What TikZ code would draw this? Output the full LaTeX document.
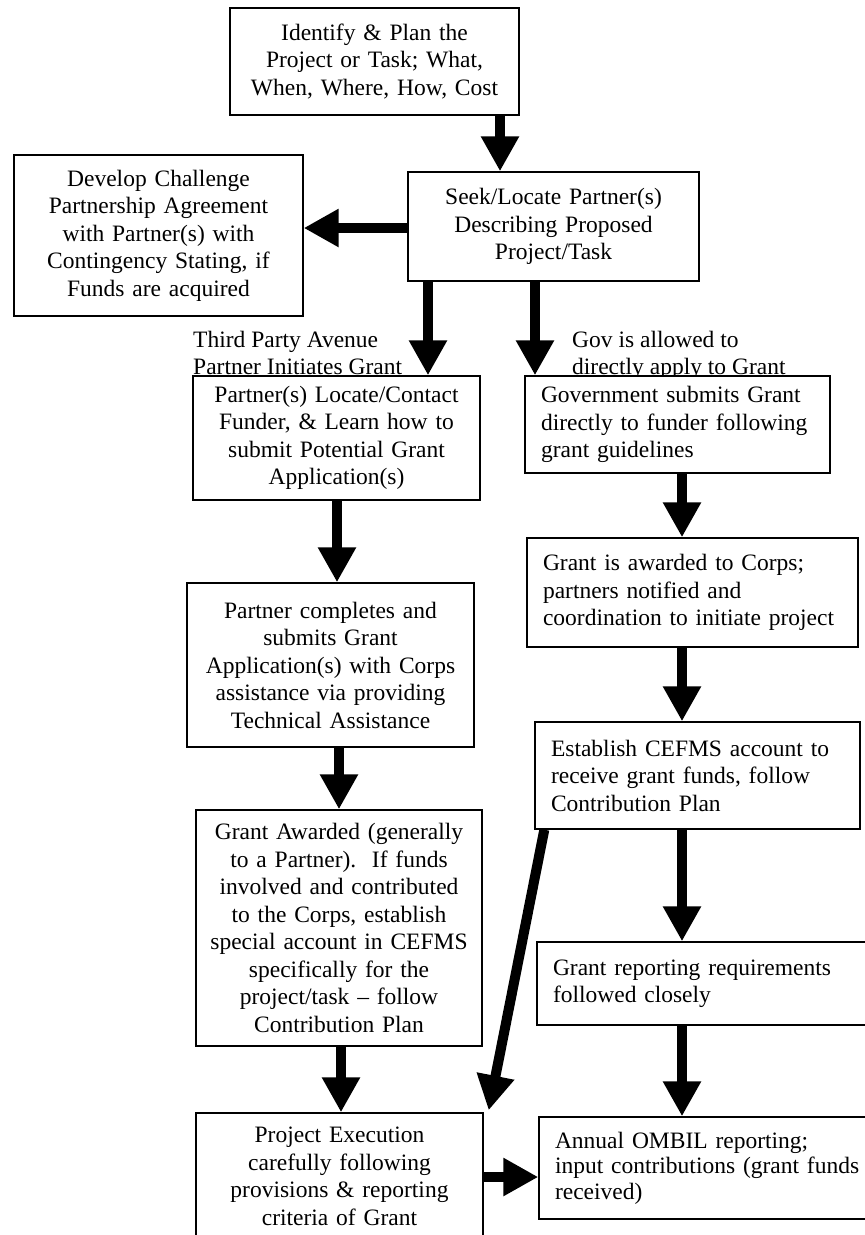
\documentclass[tikz,border=0pt]{standalone}
\usepackage{fontspec}
\setmainfont{Liberation Serif}
\usetikzlibrary{arrows.meta}
\begin{document}
\begin{tikzpicture}[x=1pt,y=-1pt]
\tikzset{
  box/.style={draw=black, line width=1.4pt, fill=white, inner ysep=0pt,
    font=\fontsize{23.5}{27.5}\selectfont},
  cbox/.style={box, inner xsep=6pt, align=center},
  lbox/.style={box, inner xsep=16pt, align=left},
  lbl/.style={inner sep=0pt, anchor=north west, align=left, font=\fontsize{23.5}{26.5}\selectfont},
  arr/.style={line width=10pt, -{Triangle[width=36pt,length=35pt]}}
}
\useasboundingbox[fill=white] (0,0) rectangle (865,1235);

% labels (drawn first so box tops cover their descenders)
\node[lbl] (l1) at (193,331) {Third Party Avenue\\Partner Initiates Grant};
\node[lbl] (l2) at (572,331) {Gov is allowed to\\directly apply to Grant};

% boxes
\node[cbox, text width=277pt, minimum height=107pt] (b1) at (374.5,61.5)
  {Identify \& Plan the\\Project or Task; What,\\When, Where, How, Cost};
\node[cbox, text width=279pt, minimum height=109pt] (b2) at (553.5,226.5)
  {Seek/Locate Partner(s)\\Describing Proposed\\Project/Task};
\node[cbox, text width=277pt, minimum height=161pt] (b3) at (158.5,235.5)
  {Develop Challenge\\Partnership Agreement\\with Partner(s) with\\Contingency Stating, if\\Funds are acquired};
\node[cbox, text width=275pt, minimum height=124pt] (b4) at (336.5,438)
  {Partner(s) Locate/Contact\\Funder, \& Learn how to\\submit Potential Grant\\Application(s)};
\node[lbox, text width=273pt, minimum height=97pt] (b5) at (677.5,424.5)
  {Government submits Grant\\directly to funder following\\grant guidelines};
\node[cbox, text width=275pt, minimum height=164pt] (b6) at (330.5,665)
  {Partner completes and\\submits Grant\\Application(s) with Corps\\assistance via providing\\Technical Assistance};
\node[lbox, text width=299pt, minimum height=109pt] (b7) at (692.5,592.5)
  {Grant is awarded to Corps;\\partners notified and\\coordination to initiate project};
\node[lbox, text width=293pt, minimum height=107pt] (b8) at (697.5,775.5)
  {Establish CEFMS account to\\receive grant funds, follow\\Contribution Plan};
\node[cbox, text width=274pt, minimum height=236pt] (b9) at (339,928)
  {Grant Awarded (generally\\to a Partner).\ \ If funds\\involved and contributed\\to the Corps, establish\\special account in CEFMS\\specifically for the\\project/task -- follow\\Contribution Plan};
\node[lbox, text width=320pt, minimum height=83pt] (b10) at (713,983.5)
  {Grant reporting requirements\\followed closely};
\node[cbox, text width=275pt, minimum height=127pt] (b11) at (339.5,1176.5)
  {Project Execution\\carefully following\\provisions \& reporting\\criteria of Grant};
\node[lbox, text width=330pt, minimum height=102pt, font=\fontsize{23.5}{25.5}\selectfont] (b12) at (720,1168)
  {Annual OMBIL reporting;\\input contributions (grant funds\\received)};

% guide coordinates for arrow positions
\coordinate (xa) at (500,0);
\coordinate (xb) at (428,0);
\coordinate (xc) at (535,0);
\coordinate (xd) at (337,0);
\coordinate (xe) at (682,0);
\coordinate (xf) at (339,0);
\coordinate (xg) at (341,0);
\coordinate (ya) at (0,228);
\coordinate (yb) at (0,1177);

% connectors
\draw[arr] (b1.south -| xa) -- (b2.north -| xa);
\draw[arr] (b2.west |- ya) -- (b3.east |- ya);
\draw[arr] (b2.south -| xb) -- (b4.north -| xb);
\draw[arr] (b2.south -| xc) -- (b5.north -| xc);
\draw[arr] (b4.south -| xd) -- (b6.north -| xd);
\draw[arr] (b5.south -| xe) -- (b7.north -| xe);
\draw[arr] (b7.south -| xe) -- (b8.north -| xe);
\draw[arr] (b6.south -| xf) -- (b9.north -| xf);
\draw[arr] (b8.south -| xe) -- (b10.north -| xe);
\draw[arr] (b9.south -| xg) -- (b11.north -| xg);
\draw[arr] (b10.south -| xe) -- (b12.north -| xe);
\draw[arr] (b11.east |- yb) -- (b12.west |- yb);
\draw[arr] ([xshift=10pt]b8.south west) -- ([xshift=5pt,yshift=2pt]b11.north east);
\end{tikzpicture}
\end{document}
